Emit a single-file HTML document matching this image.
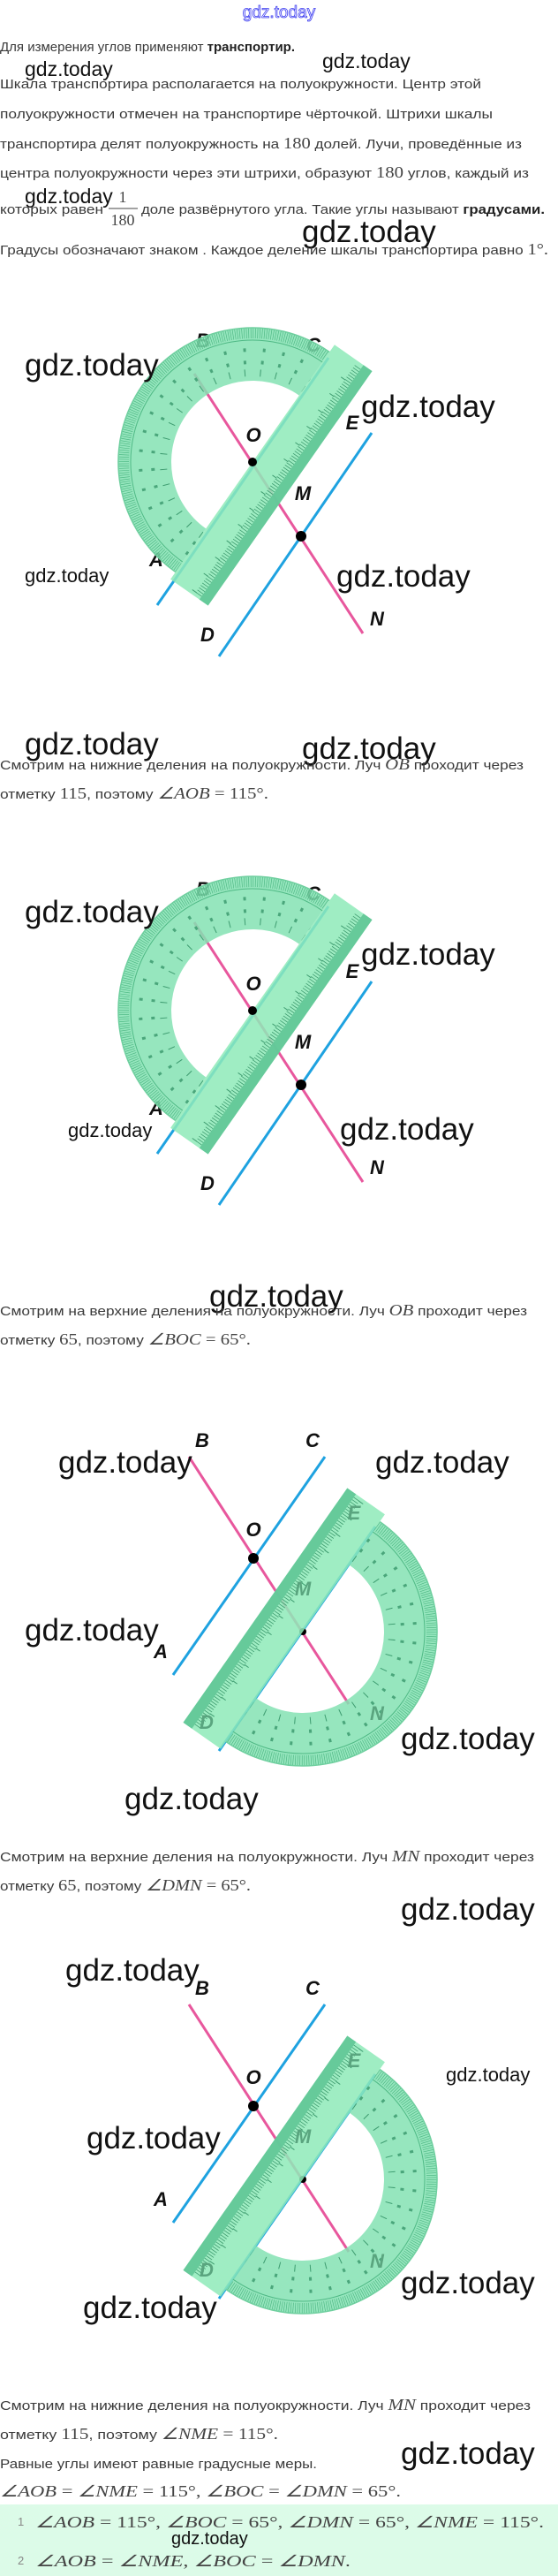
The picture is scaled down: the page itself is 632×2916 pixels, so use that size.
<!DOCTYPE html>
<html><head><meta charset="utf-8"><style>
html,body{margin:0;padding:0;background:#fff;}
svg{display:block;}
.t{font-family:"Liberation Sans",sans-serif;font-size:15px;fill:#3a3a3a;}
.b{font-weight:bold;fill:#222;}
.m{font-family:"Liberation Serif",serif;font-size:18px;fill:#444;}
.i{font-style:italic;}
.w{font-family:"Liberation Sans",sans-serif;fill:#111;}
.lb{font-family:"Liberation Sans",sans-serif;font-weight:bold;font-style:italic;font-size:22px;fill:#111;}
.lf{font-family:"Liberation Sans",sans-serif;font-weight:bold;font-style:italic;font-size:22px;fill:#5aa57f;}
</style></head><body>
<svg width="632" height="2916" viewBox="0 0 632 2916" xmlns="http://www.w3.org/2000/svg">
<defs>
<g id="prot">
  <path d="M -152 0 A 152 152 0 0 1 152 0 L 92 0 A 92 92 0 0 0 -92 0 Z" fill="#84e2b3" fill-opacity="0.85"/>
  <path d="M -146 0 A 146 146 0 0 1 146 0" fill="none" stroke="#4fb985" stroke-width="12" stroke-dasharray="0.7 1.85"/>
  <path d="M -152 0 A 152 152 0 0 1 152 0" fill="none" stroke="#6fcf9f" stroke-width="1.5"/>
  <path d="M -138 0 A 138 138 0 0 1 138 0" fill="none" stroke="#4fb985" stroke-width="1"/>
  <path d="M -101 0 A 101 101 0 0 1 101 0" fill="none" stroke="#3e9c70" stroke-width="8" stroke-dasharray="1 16.6"/>
  <path d="M -127 0 A 127 127 0 0 1 127 0" fill="none" stroke="#4aa67b" stroke-width="4" stroke-dasharray="3 19.2"/>
  <path d="M -113 0 A 113 113 0 0 1 113 0" fill="none" stroke="#4aa67b" stroke-width="4" stroke-dasharray="3 16.7"/>
  <rect x="-162" y="0" width="324" height="52" fill="#8eeab8" fill-opacity="0.85"/>
  <rect x="-162" y="40" width="324" height="12" fill="#5fc596" fill-opacity="0.9"/>
  <line x1="-158" y1="36" x2="158" y2="36" stroke="#3f9c70" stroke-width="8" stroke-dasharray="0.8 2.4"/>
  <line x1="-158" y1="30" x2="158" y2="30" stroke="#3f9c70" stroke-width="6" stroke-dasharray="1 21.6"/>
</g>
<g id="d1">
  <line x1="220" y1="423" x2="411" y2="717" stroke="#e8579d" stroke-width="3"/>
  <line x1="178" y1="685" x2="372" y2="405" stroke="#1ea2e0" stroke-width="3"/>
  <line x1="248" y1="743" x2="421" y2="490" stroke="#1ea2e0" stroke-width="3"/>
  <text class="lb" x="230" y="393" text-anchor="middle">B</text>
  <text class="lb" x="355" y="398" text-anchor="middle">C</text>
  <text class="lb" x="177" y="641" text-anchor="middle">A</text>
  <use href="#prot" transform="translate(286,523) rotate(-55)"/>
  <circle cx="286" cy="523" r="5" fill="#000"/>
  <circle cx="341" cy="607" r="6" fill="#000"/>
  <text class="lb" x="399" y="486" text-anchor="middle">E</text>
  <text class="lb" x="287" y="500" text-anchor="middle">O</text>
  <text class="lb" x="343" y="566" text-anchor="middle">M</text>
  <text class="lb" x="427" y="708" text-anchor="middle">N</text>
  <text class="lb" x="235" y="726" text-anchor="middle">D</text>
</g>
<g id="d3">
  <line x1="214" y1="1649" x2="395" y2="1929" stroke="#e8579d" stroke-width="3"/>
  <line x1="196" y1="1896" x2="368" y2="1649" stroke="#1ea2e0" stroke-width="3"/>
  <line x1="248" y1="1982" x2="425" y2="1728" stroke="#1ea2e0" stroke-width="3"/>
  <circle cx="343" cy="1847" r="4" fill="#000"/>
  <text class="lb" x="229" y="1638" text-anchor="middle">B</text>
  <text class="lb" x="354" y="1638" text-anchor="middle">C</text>
  <text class="lb" x="287" y="1739" text-anchor="middle">O</text>
  <text class="lb" x="182" y="1877" text-anchor="middle">A</text>
  <use href="#prot" transform="translate(343,1847) rotate(125)"/>
  <text class="lf" x="401" y="1720" text-anchor="middle">E</text>
  <text class="lf" x="343" y="1806" text-anchor="middle">M</text>
  <text class="lf" x="234" y="1957" text-anchor="middle">D</text>
  <text class="lf" x="427" y="1947" text-anchor="middle">N</text>
  <circle cx="287" cy="1764" r="6" fill="#000"/>
</g>
</defs>

<!-- header -->
<text x="316" y="20" text-anchor="middle" font-family="Liberation Sans,sans-serif" font-size="19" fill="#fff" stroke="#3a3af0" stroke-width="0.8">gdz.today</text>

<text class="t" x="0" y="58">Для измерения углов применяют <tspan class="b">транспортир.</tspan></text>
<text class="w" x="28" y="86" font-size="23">gdz.today</text>
<text class="w" x="365" y="77" font-size="23">gdz.today</text>
<text class="t" x="0" y="100" textLength="545" lengthAdjust="spacingAndGlyphs">Шкала транспортира располагается на полуокружности. Центр этой</text>
<text class="t" x="0" y="134" textLength="558" lengthAdjust="spacingAndGlyphs">полуокружности отмечен на транспортире чёрточкой. Штрихи шкалы</text>
<text class="t" x="0" y="168" textLength="591" lengthAdjust="spacingAndGlyphs">транспортира делят полуокружность на <tspan class="m">180</tspan> долей. Лучи, проведённые из</text>
<text class="t" x="0" y="201" textLength="599" lengthAdjust="spacingAndGlyphs">центра полуокружности через эти штрихи, образуют <tspan class="m">180</tspan> углов, каждый из</text>
<text class="w" x="28" y="270" font-size="23" dy="-40">gdz.today</text>
<text class="m" x="139" y="274" text-anchor="middle" dy="-45">1</text>
<line x1="123" y1="236" x2="156" y2="236" stroke="#444" stroke-width="1"/>
<text class="m" x="139" y="255" text-anchor="middle">180</text>
<text class="t" x="0" y="242" textLength="117" lengthAdjust="spacingAndGlyphs">которых равен</text>
<text class="t" x="160" y="242" textLength="457" lengthAdjust="spacingAndGlyphs">доле развёрнутого угла. Такие углы называют <tspan class="b">градусами.</tspan></text>
<text class="w" x="342" y="274" font-size="35">gdz.today</text>
<text class="t" x="0" y="288" textLength="621" lengthAdjust="spacingAndGlyphs">Градусы обозначают знаком . Каждое деление шкалы транспортира равно <tspan class="m">1°.</tspan></text>

<!-- diagram 1 -->
<use href="#d1"/>
<text class="w" x="28" y="425" font-size="35">gdz.today</text>
<text class="w" x="409" y="472" font-size="35">gdz.today</text>
<text class="w" x="28" y="659" font-size="22">gdz.today</text>
<text class="w" x="381" y="664" font-size="35">gdz.today</text>
<text class="w" x="28" y="854" font-size="35">gdz.today</text>
<text class="w" x="342" y="859" font-size="35">gdz.today</text>

<text class="t" x="0" y="871" textLength="593" lengthAdjust="spacingAndGlyphs">Смотрим на нижние деления на полуокружности. Луч <tspan class="m i">OB</tspan> проходит через</text>
<text class="t" x="0" y="904" textLength="304" lengthAdjust="spacingAndGlyphs">отметку <tspan class="m">115</tspan>, поэтому <tspan class="m"><tspan class="i">∠AOB</tspan> = 115°.</tspan></text>

<!-- diagram 2 -->
<use href="#d1" transform="translate(0,621)"/>
<text class="w" x="28" y="1044" font-size="35">gdz.today</text>
<text class="w" x="409" y="1092" font-size="35">gdz.today</text>
<text class="w" x="77" y="1287" font-size="22">gdz.today</text>
<text class="w" x="385" y="1290" font-size="35">gdz.today</text>
<text class="w" x="237" y="1479" font-size="35">gdz.today</text>

<text class="t" x="0" y="1489" textLength="597" lengthAdjust="spacingAndGlyphs">Смотрим на верхние деления на полуокружности. Луч <tspan class="m i">OB</tspan> проходит через</text>
<text class="t" x="0" y="1522" textLength="284" lengthAdjust="spacingAndGlyphs">отметку <tspan class="m">65</tspan>, поэтому <tspan class="m"><tspan class="i">∠BOC</tspan> = 65°.</tspan></text>

<!-- diagram 3 -->
<use href="#d3"/>
<text class="w" x="66" y="1667" font-size="35">gdz.today</text>
<text class="w" x="425" y="1667" font-size="35">gdz.today</text>
<text class="w" x="28" y="1857" font-size="35">gdz.today</text>
<text class="w" x="454" y="1980" font-size="35">gdz.today</text>
<text class="w" x="141" y="2048" font-size="35">gdz.today</text>

<text class="t" x="0" y="2107" textLength="605" lengthAdjust="spacingAndGlyphs">Смотрим на верхние деления на полуокружности. Луч <tspan class="m i">MN</tspan> проходит через</text>
<text class="t" x="0" y="2140" textLength="284" lengthAdjust="spacingAndGlyphs">отметку <tspan class="m">65</tspan>, поэтому <tspan class="m"><tspan class="i">∠DMN</tspan> = 65°.</tspan></text>

<!-- diagram 4 -->
<use href="#d3" transform="translate(0,620)"/>
<text class="w" x="454" y="2173" font-size="35">gdz.today</text>
<text class="w" x="74" y="2242" font-size="35">gdz.today</text>
<text class="w" x="505" y="2356" font-size="22">gdz.today</text>
<text class="w" x="98" y="2432" font-size="35">gdz.today</text>
<text class="w" x="454" y="2596" font-size="35">gdz.today</text>
<text class="w" x="94" y="2624" font-size="35">gdz.today</text>

<text class="t" x="0" y="2728" textLength="601" lengthAdjust="spacingAndGlyphs">Смотрим на нижние деления на полуокружности. Луч <tspan class="m i">MN</tspan> проходит через</text>
<text class="t" x="0" y="2761" textLength="315" lengthAdjust="spacingAndGlyphs">отметку <tspan class="m">115</tspan>, поэтому <tspan class="m"><tspan class="i">∠NME</tspan> = 115°.</tspan></text>
<text class="w" x="454" y="2789" font-size="35">gdz.today</text>
<text class="t" x="0" y="2794" textLength="359" lengthAdjust="spacingAndGlyphs">Равные углы имеют равные градусные меры.</text>
<text class="m" x="0" y="2826" textLength="454" lengthAdjust="spacingAndGlyphs"><tspan class="i">∠AOB</tspan> = <tspan class="i">∠NME</tspan> = 115°, <tspan class="i">∠BOC</tspan> = <tspan class="i">∠DMN</tspan> = 65°.</text>

<rect x="0" y="2835" width="632" height="81" fill="#dcfbe8"/>
<text x="20" y="2859" font-family="Liberation Sans,sans-serif" font-size="13" fill="#888">1</text>
<text class="m" x="40" y="2861" font-size="21" textLength="576" lengthAdjust="spacingAndGlyphs"><tspan class="i">∠AOB</tspan> = 115°, <tspan class="i">∠BOC</tspan> = 65°, <tspan class="i">∠DMN</tspan> = 65°, <tspan class="i">∠NME</tspan> = 115°.</text>
<text class="w" x="194" y="2880" font-size="20">gdz.today</text>
<text x="20" y="2903" font-family="Liberation Sans,sans-serif" font-size="13" fill="#888">2</text>
<text class="m" x="40" y="2905" font-size="21" textLength="357" lengthAdjust="spacingAndGlyphs"><tspan class="i">∠AOB</tspan> = <tspan class="i">∠NME</tspan>, <tspan class="i">∠BOC</tspan> = <tspan class="i">∠DMN</tspan>.</text>
</svg>
</body></html>
